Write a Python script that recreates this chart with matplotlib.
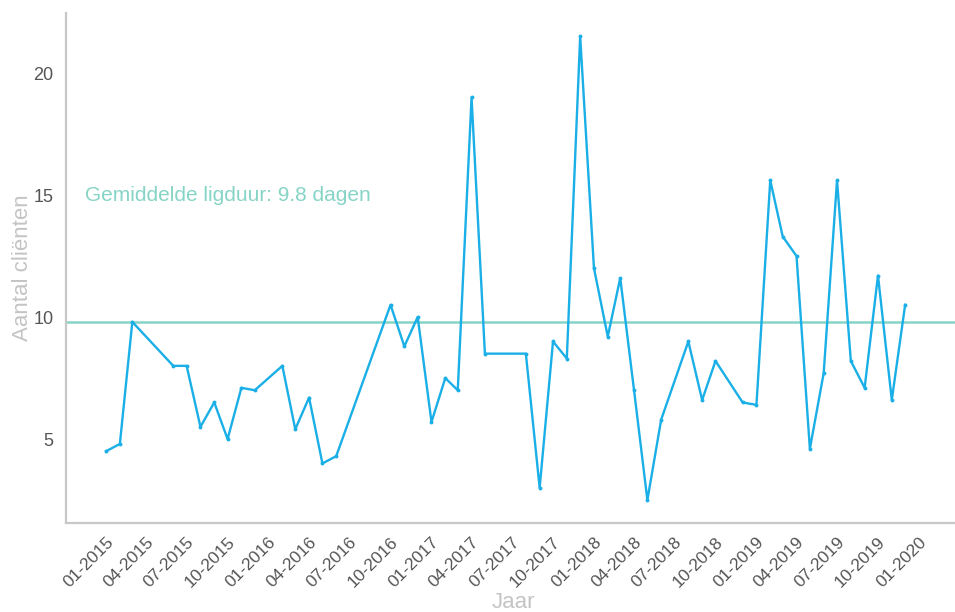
import matplotlib
matplotlib.use("Agg")
import matplotlib.pyplot as plt
from matplotlib.transforms import ScaledTranslation, blended_transform_factory
import pandas as pd

# ---- data ----
months = ["2015-01", "2015-02", "2015-03", "2015-06", "2015-07", "2015-08", "2015-09",
          "2015-10", "2015-11", "2015-12", "2016-02", "2016-03", "2016-04", "2016-05",
          "2016-06", "2016-10", "2016-11", "2016-12", "2017-01", "2017-02", "2017-03",
          "2017-04", "2017-05", "2017-08", "2017-09", "2017-10", "2017-11", "2017-12",
          "2018-01", "2018-02", "2018-03", "2018-04", "2018-05", "2018-06", "2018-08",
          "2018-09", "2018-10", "2018-12", "2019-01", "2019-02", "2019-03", "2019-04",
          "2019-05", "2019-06", "2019-07", "2019-08", "2019-09", "2019-10", "2019-11",
          "2019-12"]
clients = [4.5, 4.8, 9.8, 8.0, 8.0, 5.5, 6.5,
           5.0, 7.1, 7.0, 8.0, 5.4, 6.7, 4.0,
           4.3, 10.5, 8.8, 10.0, 5.7, 7.5, 7.0,
           19.0, 8.5, 8.5, 3.0, 9.0, 8.3, 21.5,
           12.0, 9.2, 11.6, 7.0, 2.5, 5.8, 9.0,
           6.6, 8.2, 6.5, 6.4, 15.6, 13.3, 12.5,
           4.6, 7.7, 15.6, 8.2, 7.1, 11.7, 6.6,
           10.5]
mean_value = 9.8
mean_label = "Gemiddelde ligduur: 9.8 dagen"
tick_dates = ["2015-01-01", "2015-04-01", "2015-07-01", "2015-10-01",
              "2016-01-01", "2016-04-01", "2016-07-01", "2016-10-01",
              "2017-01-01", "2017-04-01", "2017-07-01", "2017-10-01",
              "2018-01-01", "2018-04-01", "2018-07-01", "2018-10-01",
              "2019-01-01", "2019-04-01", "2019-07-01", "2019-10-01",
              "2020-01-01"]
tick_labels = [pd.Timestamp(d).strftime("%m-%Y") for d in tick_dates]
y_ticks = [5, 10, 15, 20]

# ---- style ----
plt.rcParams['font.family'] = ['Liberation Sans', 'DejaVu Sans']
line_color = "#1aafe6"
mean_color = "#86d4c6"
spine_color = "#c8c8c8"
label_color = "#c4c4c4"
tick_color = "#555555"

fig = plt.figure(figsize=(9.55, 6.12), dpi=100)
ax = fig.add_axes([66/955, 1 - 523/612, 1 - 66/955, (523 - 13)/612])

x = pd.to_datetime(months)
ax.plot(x, clients, color=line_color, lw=1.7, marker="o", ms=2.8,
        markerfacecolor=line_color, markeredgewidth=0, zorder=3)
ax.axhline(mean_value, color=mean_color, lw=1.8, zorder=2)

trans = blended_transform_factory(ax.transAxes, ax.transData)
ax.text(0.0214, 15, mean_label, transform=trans, color=mean_color,
        fontsize=15, va="center", ha="left")

ax.set_xlim(pd.Timestamp("2014-10-03"), pd.Timestamp("2020-03-22"))
ax.set_ylim(1.56, 22.46)

ax.set_yticks(y_ticks)
ax.set_yticklabels([str(v) for v in y_ticks], fontsize=13, color=tick_color)
ax.set_xticks(pd.to_datetime(tick_dates))
ax.set_xticklabels(tick_labels, fontsize=12.5, color=tick_color, rotation=45,
                   ha="right", rotation_mode="anchor", va="center")
ax.tick_params(axis="both", length=0)
ax.tick_params(axis="y", pad=9)
ax.tick_params(axis="x", pad=12)
for lbl in ax.get_xticklabels():
    lbl.set_transform(lbl.get_transform() + ScaledTranslation(5/100, 0, fig.dpi_scale_trans))

for s in ["top", "right"]:
    ax.spines[s].set_visible(False)
for s in ["left", "bottom"]:
    ax.spines[s].set_color(spine_color)
    ax.spines[s].set_linewidth(1.6)

fig.text(22/955, 1 - 268/612, "Aantal cliënten", rotation=90, fontsize=16,
         color=label_color, ha="center", va="center")
fig.text(513/955, 1 - 602/612, "Jaar", fontsize=16, color=label_color,
         ha="center", va="center")

fig.savefig("out.png", dpi=100)
